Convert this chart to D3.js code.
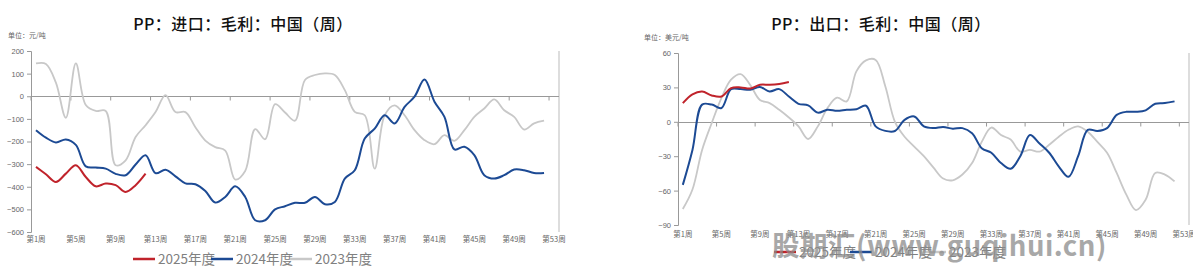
<!DOCTYPE html>
<html><head><meta charset="utf-8">
<script src="https://cdn.jsdelivr.net/npm/d3@7"></script>
<style>
html,body{margin:0;padding:0;background:#fff;}
svg{display:block;font-family:"Noto Sans CJK SC","Noto Sans",sans-serif;}
</style></head>
<body><svg id="c" width="1193" height="278"></svg>
<script>
// ---------- data ----------
const weeks = d3.range(1, 54);
const tickWeeks = [1,5,9,13,17,21,25,29,33,37,41,45,49,53];
const seriesNames = ["2025年度","2024年度","2023年度"];

const importTitle = "PP：进口：毛利：中国（周）";
const importUnit = "单位：元/吨";
const importYTicks = [200,100,0,-100,-200,-300,-400,-500,-600];
const import2025 = [-312,-345,-379,-342,-305,-357,-398,-386,-393,-423,-393,-342];
const import2024 = [-150,-183,-204,-191,-215,-310,-315,-320,-343,-349,-302,-261,-340,-325,-354,-385,-389,-419,-470,-445,-398,-445,-548,-548,-500,-486,-471,
  -471,-445,-477,-467,-364,-327,-187,-143,-84,-120,-47,-2,74,-24,-91,-235,-223,-260,-349,-364,-349,-324,-327,-339,-339];
const import2023 = [145,143,60,-95,145,-39,-65,-65,-305,-283,-180,-128,-70,5,-70,-70,-137,-196,-225,-240,-368,-330,-145,-190,-35,-72,-108,
  72,94,101,94,27,-69,-84,-320,-84,-40,-84,-150,-194,-212,-172,-197,-150,-91,-54,-14,-62,-91,-147,-120,-108];

const exportTitle = "PP：出口：毛利：中国（周）";
const exportUnit = "单位：美元/吨";
const exportYTicks = [60,30,0,-30,-60,-90];
const export2025 = [16.3,24,26.5,23,22,29.4,30,29,32.3,32.3,33,34.7];
const export2024 = [-55,-24.5,15,15,12,28.5,28.5,28,30.3,26.5,28.5,22,15.7,14.3,8,10.5,9.6,10.5,11,14,-4,-7.9,-8,
  1.7,4.7,-4,-5.5,-4.6,-6,-5.5,-10,-23,-27,-36,-41,-30,-11.6,-19,-27,-39,-48,-30,-7,-8,-5.5,6,8.7,8.7,10,15.7,16.3,17.8];
const export2023 = [-76,-59,-24.5,-1,20.7,36.7,41.6,32,19,16.3,10.5,3.8,-4,-15,-4,12,21,17.8,44,53.6,54,31,0,
  -13,-21.6,-30,-40,-49.5,-51,-46,-36,-17.5,-5,-11.6,-15.5,-26,-24.5,-26,-20,-13,-7,-4,-8.7,-17.5,-27,-44.6,-63.5,-77,-68,-44.6,-46,-52];

const colors = ["#c0232b","#1c4a94","#c8c8c8"];

const svg = d3.select("#c");

function drawChart(cfg){
  const g = svg.append("g");
  const x = d3.scaleBand().domain(weeks).range([cfg.x0, cfg.x1]);
  const bw = x.bandwidth();
  const y = d3.scaleLinear().domain([cfg.yTicks[cfg.yTicks.length-1], cfg.yTicks[0]]).range([cfg.yb, cfg.yt]);

  // title
  g.append("text").attr("x", cfg.tx).attr("y", 30).attr("text-anchor","middle")
    .attr("font-size", 16).attr("font-weight", 500).attr("fill","#111").attr("letter-spacing", 0.5).text(cfg.title);
  // unit
  g.append("text").attr("x", cfg.ux).attr("y", cfg.uy).attr("font-size", 7).attr("fill","#666").text(cfg.unit);

  // y axis
  const ya = g.append("g").attr("transform", `translate(${cfg.x0},0)`)
    .call(d3.axisLeft(y).tickValues(cfg.yTicks).tickSize(4).tickPadding(3).tickFormat(d3.format("d")));
  ya.select(".domain").attr("stroke","#999");
  ya.selectAll(".tick line").attr("stroke","#999");
  ya.selectAll(".tick text").attr("fill","#666").attr("font-size", 7.5).attr("font-family","Liberation Sans, Arial, sans-serif");

  // right border
  g.append("line").attr("x1", cfg.x1).attr("x2", cfg.x1).attr("y1", cfg.yt).attr("y2", cfg.yb)
    .attr("stroke","#bbb").attr("stroke-width",1);

  // zero line with category ticks
  const y0 = Math.round(y(0)) + 0.5;
  g.append("line").attr("x1", cfg.x0).attr("x2", cfg.x1).attr("y1", y0).attr("y2", y0).attr("stroke","#999");
  g.selectAll(".zt").data(tickWeeks).join("line")
    .attr("x1", d => x(d)).attr("x2", d => x(d)).attr("y1", y0).attr("y2", y0 + 4).attr("stroke","#999");

  // x labels
  g.selectAll(".xl").data(tickWeeks).join("text")
    .attr("x", d => x(d) + bw/2).attr("y", cfg.xly).attr("text-anchor","middle")
    .attr("font-size", 7.5).attr("fill","#666").text(d => "第" + d + "周");

  // lines
  const line = d3.line().x((d,i) => x(weeks[i]) + bw/2).y(d => y(d)).curve(d3.curveCatmullRom.alpha(0.5));
  const data = [cfg.s2023, cfg.s2024, cfg.s2025];
  const cols = [colors[2], colors[1], colors[0]];
  data.forEach((s, k) => {
    g.append("path").attr("d", line(s)).attr("fill","none").attr("stroke", cols[k])
      .attr("stroke-width", k === 0 ? 1.8 : 2).attr("stroke-linejoin","round");
  });

  // legend
  const lg = g.append("g");
  cfg.legendX.forEach((lx, i) => {
    lg.append("line").attr("x1", lx).attr("x2", lx + 22).attr("y1", cfg.ly).attr("y2", cfg.ly)
      .attr("stroke", colors[i]).attr("stroke-width", 2.5);
    lg.append("text").attr("x", lx + 25).attr("y", cfg.ly + 5).attr("font-size", 13.5).attr("fill","#808080")
      .text(seriesNames[i]);
  });
}

drawChart({x0:31, x1:559, yt:51, yb:232, yTicks:importYTicks, title:importTitle, tx:243,
  unit:importUnit, ux:8, uy:38, xly:242, ly:259, legendX:[133,211,290],
  s2025:import2025, s2024:import2024, s2023:import2023});

drawChart({x0:678, x1:1189, yt:53, yb:225, yTicks:exportYTicks, title:exportTitle, tx:881,
  unit:exportUnit, ux:644, uy:40, xly:237, ly:252, legendX:[774,850,924],
  s2025:export2025, s2024:export2024, s2023:export2023});

// watermark
svg.append("text").attr("x", 772).attr("y", 256).attr("font-size", 27.5).attr("font-weight", "bold")
  .attr("fill", "#8c8c8c").attr("opacity", 0.75).attr("letter-spacing", 0.5)
  .attr("font-family", "Noto Sans CJK SC, DejaVu Sans, sans-serif").text("股期汇(www.guqihui.cn)");
</script></body></html>
